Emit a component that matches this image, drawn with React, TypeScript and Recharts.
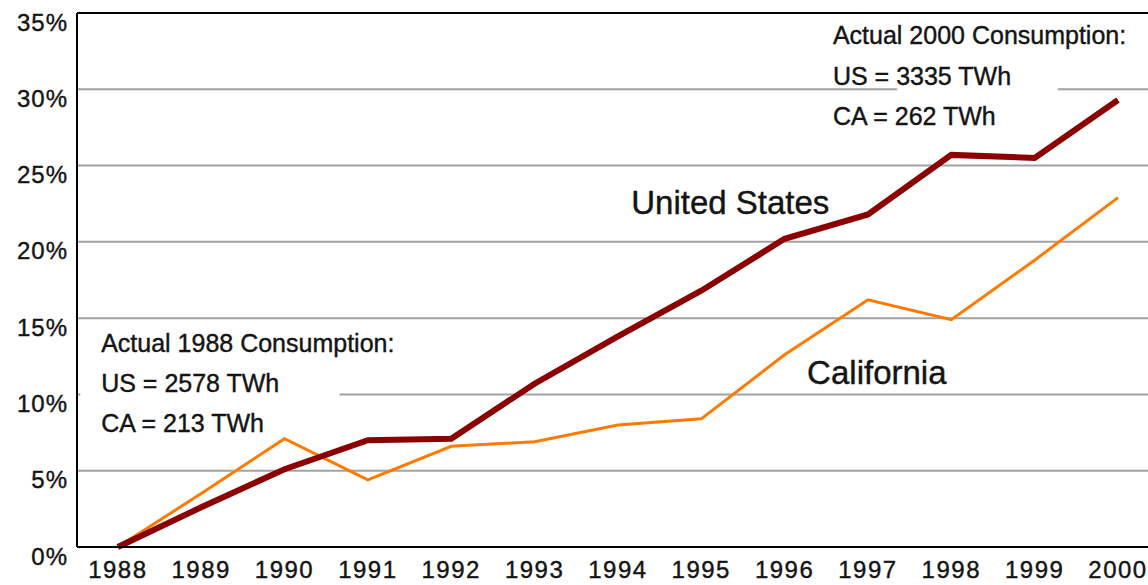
import React from 'react';
import {
  LineChart,
  Line,
  XAxis,
  YAxis,
  CartesianGrid,
  ReferenceLine,
  ReferenceArea,
  ReferenceDot,
} from 'recharts';

// growth in electricity consumption since 1988, percent
const years = [1988, 1989, 1990, 1991, 1992, 1993, 1994, 1995, 1996, 1997, 1998, 1999, 2000];
const usGrowth = [0, 2.6, 5.1, 7.0, 7.1, 10.7, 13.8, 16.8, 20.2, 21.8, 25.7, 25.5, 29.3];
const caGrowth = [0, 3.5, 7.1, 4.4, 6.6, 6.9, 8.0, 8.4, 12.6, 16.2, 14.9, 18.8, 22.9];
const yTicks = [0, 5, 10, 15, 20, 25, 30, 35];

// text notes, anchored in data units (year, percent)
const notes = [
  { x: 1996.58, y: 33.55, text: 'Actual 2000 Consumption:', size: 25 },
  { x: 1996.58, y: 30.9, text: 'US = 3335 TWh', size: 25 },
  { x: 1996.58, y: 28.25, text: 'CA = 262 TWh', size: 25 },
  { x: 1987.8, y: 13.4, text: 'Actual 1988 Consumption:', size: 25 },
  { x: 1987.8, y: 10.75, text: 'US = 2578 TWh', size: 25 },
  { x: 1987.8, y: 8.13, text: 'CA = 213 TWh', size: 25 },
  { x: 1994.16, y: 22.6, text: 'United States', size: 33 },
  { x: 1996.27, y: 11.47, text: 'California', size: 33 },
];

const data = years.map((year, i) => ({ year, us: usGrowth[i], ca: caGrowth[i] }));

const font = '"Liberation Sans", Arial, sans-serif';
const ink = '#141414';

export default function App() {
  return (
    <div style={{ position: 'absolute', left: 0, top: 0, background: '#fff' }}>
      <LineChart width={1148} height={585} data={data} margin={{ top: 13, right: 0, bottom: 0, left: 0 }}>
        <CartesianGrid vertical={false} stroke="#a3a3a3" strokeWidth={2} />
        <XAxis
          dataKey="year"
          type="number"
          domain={[1987.51, 2000.36]}
          allowDataOverflow
          ticks={years}
          interval={0}
          height={38}
          tickLine={false}
          tickSize={0}
          tickMargin={14}
          axisLine={{ stroke: '#000', strokeWidth: 2 }}
          tick={{ fontSize: 24, fill: ink, fontFamily: font, letterSpacing: 1.5, stroke: ink, strokeWidth: 0.4 }}
        />
        <YAxis
          domain={[0, 35]}
          ticks={yTicks}
          width={77}
          tickLine={false}
          tickSize={0}
          tickMargin={9}
          tickFormatter={(v) => `${v}%`}
          axisLine={{ stroke: '#000', strokeWidth: 2 }}
          tick={{ fontSize: 24, fill: ink, fontFamily: font, dy: 9, letterSpacing: 1, stroke: ink, strokeWidth: 0.4 }}
        />
        <ReferenceLine y={35} stroke="#000" strokeWidth={2} />
        <ReferenceArea x1={1987.55} x2={1990.66} y1={9.7} y2={10.3} fill="#fff" fillOpacity={1} stroke="none" />
        <ReferenceArea x1={1997.35} x2={1999.28} y1={29.7} y2={30.3} fill="#fff" fillOpacity={1} stroke="none" />
        <Line
          dataKey="ca"
          stroke="#ff7a00"
          strokeWidth={3}
          dot={false}
          isAnimationActive={false}
        />
        <Line
          dataKey="us"
          stroke="#8b0000"
          strokeWidth={6}
          dot={false}
          isAnimationActive={false}
        />
        {notes.map((n) => (
          <ReferenceDot
            key={n.text}
            x={n.x}
            y={n.y}
            r={0}
            fill="none"
            stroke="none"
            label={{
              content: (p: any) => (
                <text
                  x={p.viewBox.x}
                  y={p.viewBox.y}
                  dominantBaseline="central"
                  textAnchor="start"
                  fontSize={n.size}
                  fontFamily={font}
                  fill={ink}
                  stroke={ink}
                  strokeWidth={0.4}
                >
                  {n.text}
                </text>
              ),
            }}
          />
        ))}
      </LineChart>
    </div>
  );
}
